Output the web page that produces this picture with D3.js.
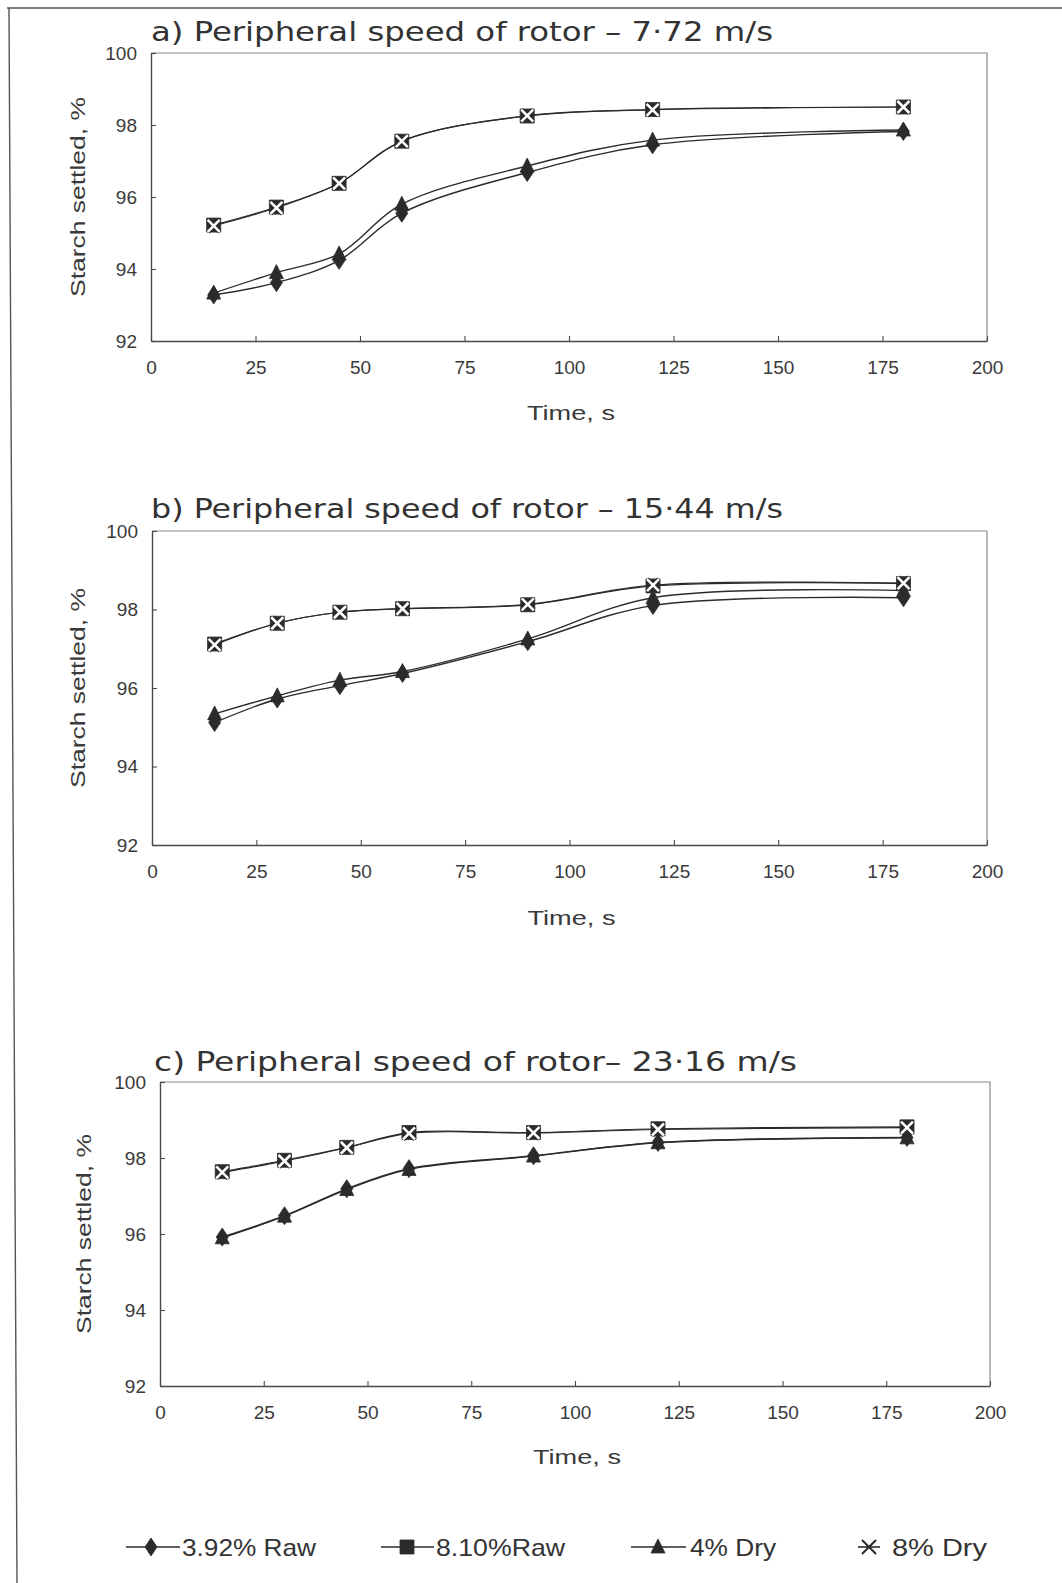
<!DOCTYPE html>
<html>
<head>
<meta charset="utf-8">
<script src="https://cdn.jsdelivr.net/npm/d3@7"></script>
<style>
  body { margin: 0; background: #fff; }
  svg { display: block; }
</style>
</head>
<body>
<svg id="fig" width="1062" height="1583"></svg>
<script>
// Sampling times (s) and axis ticks
const timeS = [15, 30, 45, 60, 90, 120, 180];
const xTicks = [0, 25, 50, 75, 100, 125, 150, 175, 200];
const yTicks = [92, 94, 96, 98, 100];
const seriesLabels = ["3.92% Raw", "8.10%Raw", "4% Dry", "8% Dry"];
const panelTitles = [
  "a) Peripheral speed of rotor – 7·72 m/s",
  "b) Peripheral speed of rotor – 15·44 m/s",
  "c) Peripheral speed of rotor– 23·16 m/s"
];

// Starch settled (%) — rotor 7.72 m/s
const raw392A = [93.28, 93.62, 94.24, 95.55, 96.68, 97.45, 97.82];
const raw810A = [95.22, 95.72, 96.38, 97.55, 98.25, 98.43, 98.50];
const dry4A   = [93.33, 93.90, 94.42, 95.80, 96.86, 97.58, 97.86];
const dry8A   = [95.20, 95.70, 96.38, 97.55, 98.26, 98.42, 98.50];

// Starch settled (%) — rotor 15.44 m/s
const raw392B = [95.12, 95.72, 96.06, 96.37, 97.18, 98.10, 98.30];
const raw810B = [97.12, 97.65, 97.93, 98.02, 98.12, 98.60, 98.66];
const dry4B   = [95.34, 95.80, 96.20, 96.42, 97.25, 98.30, 98.48];
const dry8B   = [97.10, 97.65, 97.93, 98.02, 98.13, 98.62, 98.67];

// Starch settled (%) — rotor 23.16 m/s
const raw392C = [95.92, 96.48, 97.19, 97.72, 98.06, 98.41, 98.54];
const raw810C = [97.64, 97.94, 98.28, 98.67, 98.67, 98.77, 98.82];
const dry4C   = [95.90, 96.47, 97.17, 97.70, 98.05, 98.40, 98.53];
const dry8C   = [97.62, 97.92, 98.27, 98.65, 98.66, 98.75, 98.80];

const panelSeries = [
  [raw392A, raw810A, dry4A, dry8A],
  [raw392B, raw810B, dry4B, dry8B],
  [raw392C, raw810C, dry4C, dry8C]
];

// Page placement of each panel
const frames = [
  { x0: 151, x1: 987, yT: 53,   yB: 341,  tX: 151, tY: 41,   tW: 622, ylX: 77, xlY: 420 },
  { x0: 152, x1: 987, yT: 531,  yB: 845,  tX: 151, tY: 518,  tW: 632, ylX: 77, xlY: 925 },
  { x0: 160, x1: 990, yT: 1082, yB: 1386, tX: 154, tY: 1071, tW: 643, ylX: 83, xlY: 1464 }
];

const ink = "#2b2b2b";
const axisInk = "#4a4a4a";
const svg = d3.select("#fig");
const tickFont = "'Liberation Sans', Arial, sans-serif";
const titleFont = "'DejaVu Sans Condensed', 'Liberation Sans Narrow', 'DejaVu Sans', sans-serif";

// Marker shapes, centred on (0,0)
const markerPath = {
  diamond: "M0,-9L6,0L0,9L-6,0Z",
  square: "M-7,-7H7V7H-7Z",
  triangle: "M0,-8L7,6H-7Z",
  cross: "M-6,-6L6,6M6,-6L-6,6"
};

function drawMarker(g, kind, x, y) {
  if (kind === "cross") {
    // asterisk drawn as an outlined X so it reads on the square beneath it
    g.append("path").attr("d", markerPath.cross).attr("transform", `translate(${x},${y})`)
      .attr("stroke", ink).attr("stroke-width", 4.6).attr("fill", "none");
    g.append("path").attr("d", markerPath.cross).attr("transform", `translate(${x},${y})`)
      .attr("stroke", "#fff").attr("stroke-width", 2.6).attr("fill", "none");
  } else {
    g.append("path").attr("d", markerPath[kind]).attr("transform", `translate(${x},${y})`)
      .attr("fill", ink).attr("stroke", ink).attr("stroke-width", 0.8);
  }
}

// Outer frame rules of the figure sheet
svg.append("line").attr("x1", 7).attr("y1", 8).attr("x2", 1062).attr("y2", 8)
  .attr("stroke", "#555").attr("stroke-width", 1.4);
svg.append("line").attr("x1", 9).attr("y1", 8).attr("x2", 17).attr("y2", 1583)
  .attr("stroke", "#555").attr("stroke-width", 1.4);

const kinds = ["diamond", "square", "triangle", "cross"];

frames.forEach((f, pi) => {
  const g = svg.append("g");
  const x = d3.scaleLinear().domain([0, 200]).range([f.x0, f.x1]);
  const y = d3.scaleLinear().domain([92, 100]).range([f.yB, f.yT]);

  // plot-area box (top and right edges)
  g.append("path")
    .attr("d", `M${f.x0},${f.yT}H${f.x1}V${f.yB}`)
    .attr("fill", "none").attr("stroke", "#8a8a8a").attr("stroke-width", 1.2);

  // axes
  const xAxis = d3.axisBottom(x).tickValues(xTicks).tickSizeInner(-5).tickSizeOuter(0).tickPadding(24)
    .tickFormat(d3.format("d"));
  const yAxis = d3.axisLeft(y).tickValues(yTicks).tickSizeInner(-5).tickSizeOuter(0).tickPadding(14)
    .tickFormat(d3.format("d"));
  const gx = g.append("g").attr("transform", `translate(0,${f.yB})`).call(xAxis);
  const gy = g.append("g").attr("transform", `translate(${f.x0},0)`).call(yAxis);
  [gx, gy].forEach(a => {
    a.select(".domain").attr("stroke", axisInk).attr("stroke-width", 1.4);
    a.selectAll(".tick line").attr("stroke", axisInk).attr("stroke-width", 1.1);
    a.selectAll(".tick text").attr("fill", "#3a3a3a").attr("font-size", 19)
      .attr("font-family", tickFont);
  });
  gx.selectAll(".tick text").attr("dy", "0.45em");

  // panel title
  g.append("text").attr("x", f.tX).attr("y", f.tY)
    .attr("font-family", titleFont).attr("font-size", 27).attr("fill", "#333")
    .attr("textLength", f.tW).attr("lengthAdjust", "spacingAndGlyphs")
    .text(panelTitles[pi]);

  // axis titles
  g.append("text")
    .attr("transform", `translate(${f.ylX},${(f.yT + f.yB) / 2}) rotate(-90)`)
    .attr("text-anchor", "middle").attr("dominant-baseline", "central")
    .attr("font-family", tickFont).attr("font-size", 21).attr("fill", "#3a3a3a")
    .attr("textLength", 200).attr("lengthAdjust", "spacingAndGlyphs")
    .text("Starch settled, %");
  g.append("text")
    .attr("x", (f.x0 + f.x1) / 2 + 2).attr("y", f.xlY)
    .attr("text-anchor", "middle")
    .attr("font-family", tickFont).attr("font-size", 21).attr("fill", "#3a3a3a")
    .attr("textLength", 88).attr("lengthAdjust", "spacingAndGlyphs")
    .text("Time, s");

  // smoothed series lines
  const line = d3.line().x(d => x(d[0])).y(d => y(d[1])).curve(d3.curveCatmullRom.alpha(0.5));
  panelSeries[pi].forEach((vals, si) => {
    g.append("path")
      .attr("d", line(timeS.map((t, i) => [t, vals[i]])))
      .attr("fill", "none").attr("stroke", ink)
      .attr("stroke-width", si === 3 || si === 1 ? 1.2 : 1.4);
  });

  // markers: squares, diamonds, triangles, then asterisks on top
  [1, 0, 2, 3].forEach(si => {
    const vals = panelSeries[pi][si];
    timeS.forEach((t, i) => drawMarker(g, kinds[si], x(t), y(vals[i])));
  });
});

// legend
const legendY = 1547;
const legendItems = [
  { x1: 126, x2: 180, mx: 151, tx: 182, tw: 134 },
  { x1: 381, x2: 434, mx: 407, tx: 436, tw: 129 },
  { x1: 631, x2: 686, mx: 658, tx: 690, tw: 86 },
  { x1: 858, x2: 880, mx: 869, tx: 892, tw: 95 }
];
const lg = svg.append("g");
legendItems.forEach((it, si) => {
  lg.append("line").attr("x1", it.x1).attr("x2", it.x2).attr("y1", legendY).attr("y2", legendY)
    .attr("stroke", ink).attr("stroke-width", 1.6);
  if (kinds[si] === "cross") {
    lg.append("path").attr("d", "M-7,-7L7,7M7,-7L-7,7")
      .attr("transform", `translate(${it.mx},${legendY})`)
      .attr("stroke", ink).attr("stroke-width", 2).attr("fill", "none");
  } else {
    drawMarker(lg, kinds[si], it.mx, legendY);
  }
  lg.append("text").attr("x", it.tx).attr("y", legendY).attr("dominant-baseline", "central")
    .attr("font-family", tickFont).attr("font-size", 24).attr("fill", "#333")
    .attr("textLength", it.tw).attr("lengthAdjust", "spacingAndGlyphs")
    .text(seriesLabels[si]);
});
</script>
</body>
</html>
